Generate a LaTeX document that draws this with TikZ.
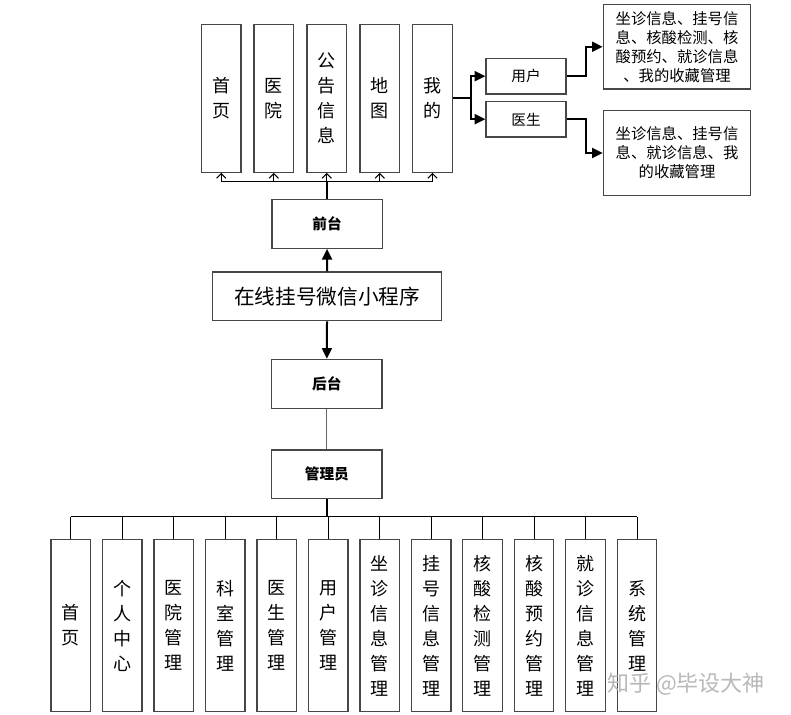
\documentclass[tikz,border=0pt]{standalone}
\usepackage{fontspec}
\newfontfamily\cjk{Noto Sans CJK SC}
\usetikzlibrary{arrows.meta}
\newdimen\pxu \pxu=0.75pt
\begin{document}
\begin{tikzpicture}[x=0.75pt,y=-0.75pt,
  box/.style={draw=black!72, line width=0.9pt, fill=white, inner sep=0pt, align=center},
  vbox/.style={box, minimum width=39.5\pxu, font=\cjk\fontsize{13.5}{18.75}\selectfont},
  topbox/.style={vbox, minimum height=148\pxu},
  botbox/.style={vbox, minimum height=172.4\pxu},
  midbox/.style={box, minimum width=110.3\pxu, minimum height=49\pxu, font=\cjk\bfseries\fontsize{11}{13}\selectfont},
  rolebox/.style={box, minimum width=80\pxu, minimum height=35.5\pxu, font=\cjk\fontsize{11}{13}\selectfont},
  infobox/.style={box, minimum width=147.4\pxu, minimum height=84.5\pxu, font=\cjk\fontsize{11.5}{14.25}\selectfont},
  thinl/.style={draw=black, line width=0.75pt},
  thickl/.style={draw=black, line width=1.5pt},
  openarr/.style={thinl, -{Straight Barb[length=3.5pt,width=7pt]}},
  fillarr/.style={thickl, -{Triangle[length=8pt,width=7.5pt]}}
]
\useasboundingbox (0,0) rectangle (791,714);

% top boxes
\node[topbox] (t1) at (221.2,98.3) {首\\页};
\node[topbox] (t2) at (273.8,98.3) {医\\院};
\node[topbox] (t3) at (326.8,98.3) {公\\告\\信\\息};
\node[topbox] (t4) at (379.8,98.3) {地\\图};
\node[topbox] (t5) at (432.5,98.3) {我\\的};

% roles and info
\node[rolebox] (yh) at (526,76.2) {用户};
\node[rolebox] (ys) at (526,119.2) {医生};
\node[infobox] (r1) at (677,46.8) {坐诊信息、挂号信\\息、核酸检测、核\\酸预约、就诊信息\\、我的收藏管理};
\node[infobox] (r2) at (677,153) {坐诊信息、挂号信\\息、就诊信息、我\\的收藏管理};

% middle
\node[midbox] (qt) at (327.1,223.8) {前台};
\node[box, minimum width=228.6\pxu, minimum height=48.7\pxu, font=\cjk\fontsize{15.5}{18}\selectfont] (zx) at (327,296.3) {在线挂号微信小程序};
\node[midbox] (ht) at (326.9,383.8) {后台};
\node[midbox, minimum height=48.3\pxu] (gl) at (326.9,474.2) {管理员};

% bottom boxes
\node[botbox] (b1) at (70.8,625.5) {首\\页};
\node[botbox] (b2) at (122.3,625.5) {个\\人\\中\\心};
\node[botbox] (b3) at (173.8,625.5) {医\\院\\管\\理};
\node[botbox] (b4) at (225.2,625.5) {科\\室\\管\\理};
\node[botbox] (b5) at (276.7,625.5) {医\\生\\管\\理};
\node[botbox] (b6) at (328.2,625.5) {用\\户\\管\\理};
\node[botbox] (b7) at (379.7,625.5) {坐\\诊\\信\\息\\管\\理};
\node[botbox] (b8) at (431.2,625.5) {挂\\号\\信\\息\\管\\理};
\node[botbox] (b9) at (482.6,625.5) {核\\酸\\检\\测\\管\\理};
\node[botbox] (b10) at (534.1,625.5) {核\\酸\\预\\约\\管\\理};
\node[botbox] (b11) at (585.6,625.5) {就\\诊\\信\\息\\管\\理};
\node[botbox] (b12) at (637.1,625.5) {系\\统\\管\\理};

% watermark
\node[font=\cjk\fontsize{16.5}{18}\selectfont, text=black!28, inner sep=0pt] (wm) at (686,684.5) {知乎 @毕设大神};

% top connectors
\coordinate (tbus) at (327,181.7);
\draw[thickl] (qt.north) -- (qt.north |- tbus);
\draw[thinl] (t1.south |- tbus) -- (t5.south |- tbus);
\foreach \n in {t1,t2,t3,t4,t5} \draw[openarr] (\n.south |- tbus) -- (\n.south);

\coordinate (wsp) at (470.5,98.3);
\draw[thickl] (t5.east) -- (wsp);
\draw[fillarr] (wsp) |- (yh.west);
\draw[fillarr] (wsp) |- (ys.west);
\draw[fillarr] (yh.east) -- ++(19,0) |- (r1.west);
\draw[fillarr] (ys.east) -- ++(19,0) |- (r2.west);

% middle connectors
\draw[fillarr] (zx.north) -- (qt.south);
\draw[fillarr] (zx.south) -- (ht.north);
\draw[draw=black!60, line width=0.75pt] (ht.south) -- (gl.north);

% bottom connectors
\coordinate (bbus) at (327,516.7);
\draw[thickl] (gl.south) -- (gl.south |- bbus);
\draw[thinl] (b1.north |- bbus) -- (b12.north |- bbus);
\foreach \n in {b1,b2,b3,b4,b5,b6,b7,b8,b9,b10,b11,b12} \draw[thinl] (\n.north |- bbus) -- (\n.north);
\end{tikzpicture}
\end{document}
